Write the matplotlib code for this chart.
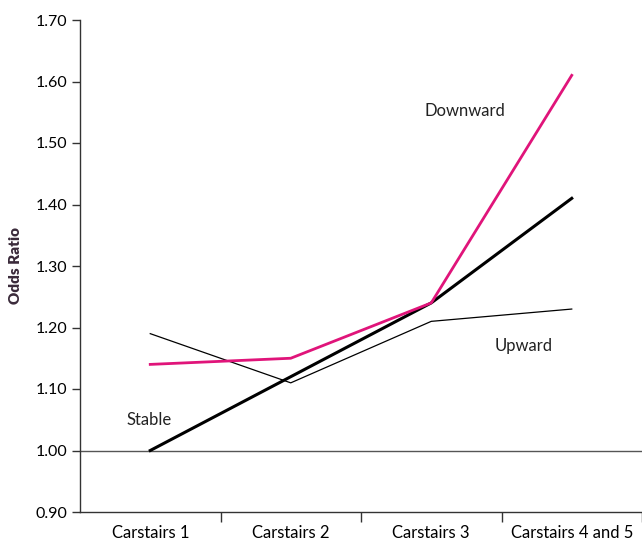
import matplotlib
matplotlib.use("Agg")
import matplotlib.pyplot as plt
import numpy as np

categories = ["Carstairs 1", "Carstairs 2", "Carstairs 3", "Carstairs 4 and 5"]
stable = [1.00, 1.12, 1.24, 1.41]
downward = [1.14, 1.15, 1.24, 1.61]
upward = [1.19, 1.11, 1.21, 1.23]
yticks = [0.90, 1.00, 1.10, 1.20, 1.30, 1.40, 1.50, 1.60, 1.70]

plt.rcParams['font.family'] = ['Lato', 'DejaVu Sans']

fig = plt.figure(figsize=(6.42, 5.47), dpi=100)
ax = fig.add_axes([80 / 642, 35 / 547, 562 / 642, 492 / 547])

x = np.arange(1, len(categories) + 1)
ax.axhline(1.0, color="#555555", lw=1.0, zorder=1)
ax.plot(x, upward, color="black", lw=0.9, zorder=2)
ax.plot(x, stable, color="black", lw=2.2, zorder=3)
ax.plot(x, downward, color="#e0147a", lw=2.0, zorder=4)

ax.text(3.24, 1.552, "Downward", fontsize=12, ha="center", va="center", color="#222222")
ax.text(3.66, 1.17, "Upward", fontsize=12, ha="center", va="center", color="#222222")
ax.text(0.99, 1.05, "Stable", fontsize=12, ha="center", va="center", color="#222222")

ax.set_xlim(0.5, 0.5 + 562 / 142)
ax.set_ylim(0.90, 1.70)
ax.set_yticks(yticks)
ax.set_yticklabels(["%.2f" % v for v in yticks], fontsize=11.5)
ax.set_xticks(x)
ax.set_xticklabels(categories, fontsize=12)
ax.tick_params(axis="x", which="major", length=0, pad=9)
ax.set_xticks(np.arange(1.5, 5, 1), minor=True)
ax.tick_params(axis="x", which="minor", length=7, width=1, color="#333333", direction="out")
ax.tick_params(axis="y", which="major", length=6, width=1, color="#333333", pad=3)

for s in ["top", "right"]:
    ax.spines[s].set_visible(False)
for s in ["left", "bottom"]:
    ax.spines[s].set_color("#333333")
    ax.spines[s].set_linewidth(1.0)

ax.set_ylabel("Odds Ratio", fontsize=11, fontweight="heavy", color="#3a2a3a", labelpad=10)

fig.savefig("out.png", dpi=100)
